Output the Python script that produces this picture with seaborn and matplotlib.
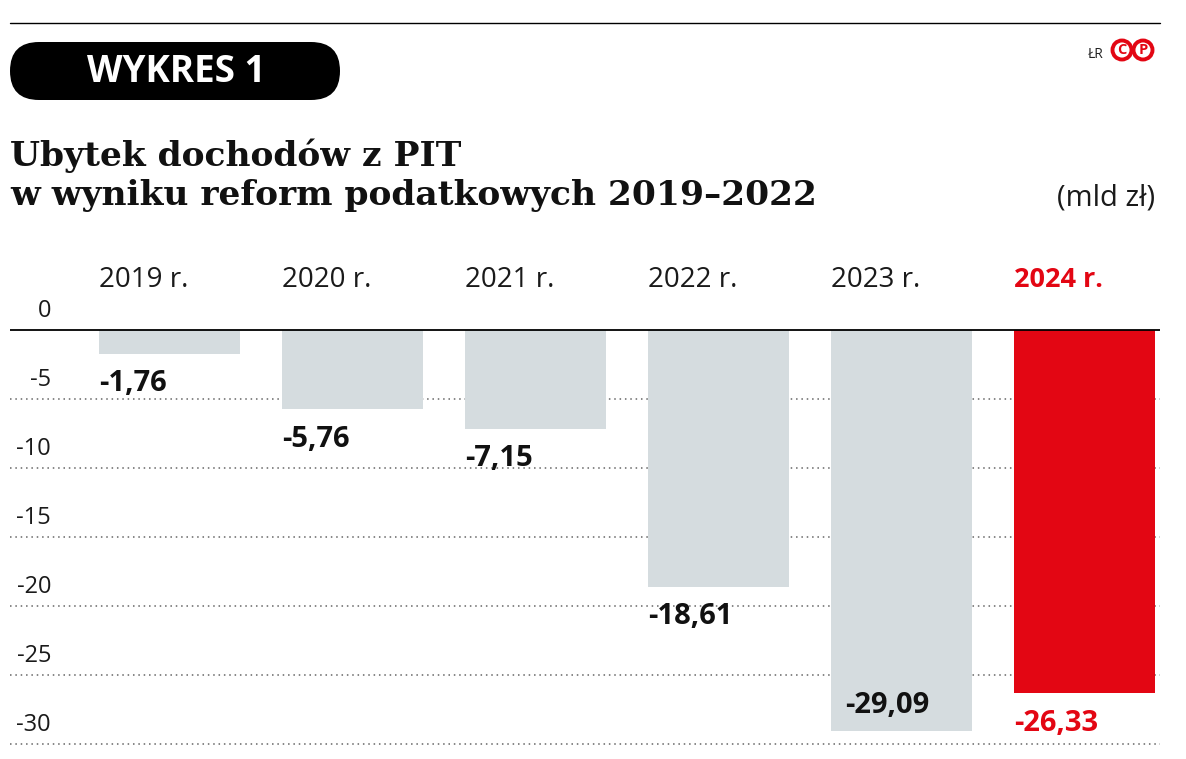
import matplotlib
matplotlib.use('Agg')
import matplotlib.pyplot as plt
import matplotlib.transforms as mtransforms
from matplotlib.patches import FancyBboxPatch, Circle
import seaborn as sns
import pandas as pd

# ---- data ----
years = ['2019 r.', '2020 r.', '2021 r.', '2022 r.', '2023 r.', '2024 r.']
values = [-1.76, -5.76, -7.15, -18.61, -29.09, -26.33]
value_labels = ['-1,76', '-5,76', '-7,15', '-18,61', '-29,09', '-26,33']
y_ticks = [0, -5, -10, -15, -20, -25, -30]
y_tick_labels = ['0', '-5', '-10', '-15', '-20', '-25', '-30']
title_lines = ['Ubytek dochodów z PIT', 'w wyniku reform podatkowych 2019–2022']
unit_label = '(mld zł)'
badge = 'WYKRES 1'

GREY = '#D5DCDF'
RED = '#E30613'
bar_colors = [GREY] * 5 + [RED]

sns.set_theme(style='white')
plt.rcParams['font.family'] = ['Open Sans', 'DejaVu Sans']

W, H = 1186, 759
fig = plt.figure(figsize=(W / 100, H / 100), dpi=100)
fig.patch.set_facecolor('white')

# main axes placement (pixel geometry)
ax_left, ax_right, ax_top, ax_bottom = 10, 1160, 250, 759
zero_px, px_per_unit = 330, 13.8
ax = fig.add_axes([ax_left / W, 1 - ax_bottom / H,
                   (ax_right - ax_left) / W, (ax_bottom - ax_top) / H])

bar_w = 141 / 183
df = pd.DataFrame({'year': years, 'value': values})
sns.barplot(data=df, x='year', y='value', hue='year', palette=bar_colors,
            width=bar_w, saturation=1, legend=False, linewidth=0, ax=ax)

x0 = (ax_left - 169.5) / 183
x1 = (ax_right - 169.5) / 183
ax.set_xlim(x0, x1)
ax.set_ylim(-(ax_bottom - zero_px) / px_per_unit, (zero_px - ax_top) / px_per_unit)
ax.axis('off')

# grid lines
for t in y_ticks:
    if t == 0:
        ax.axhline(t, color='black', lw=1.3, zorder=3)
    else:
        ax.axhline(t, color='#666666', lw=1.1, ls=(0, (1, 2.5)), zorder=0)

# y tick labels (right aligned, sitting above the line)
blend = mtransforms.blended_transform_factory(ax.transAxes, ax.transData)
for t, lab in zip(y_ticks, y_tick_labels):
    ax.text(41 / (ax_right - ax_left), t + 1.4, lab, transform=blend,
            ha='right', va='center', fontsize=17, color='#1a1a1a')

# category labels
for i, yr in enumerate(years):
    last = i == len(years) - 1
    ax.text(i - bar_w / 2, 3.62, yr, ha='left', va='center',
            fontsize=20 if not last else 19.5, color=RED if last else '#1a1a1a',
            fontweight='bold' if last else 'normal')

# value labels
for i, (v, lab) in enumerate(zip(values, value_labels)):
    last = i == len(values) - 1
    y = v - 2.15
    x = i - bar_w / 2
    if y < -30.4:
        y = v + 1.9
        x += 0.077
    ax.text(x, y, lab, ha='left', va='center', fontsize=21,
            fontweight='bold', color=RED if last else '#111111')

# ---- decoration layer in pixel coordinates ----
bg = fig.add_axes([0, 0, 1, 1], zorder=-1)
bg.set_xlim(0, W)
bg.set_ylim(H, 0)
bg.axis('off')

bg.plot([10, 1160], [23, 23], color='black', lw=1)

pill = FancyBboxPatch((10, 42), 330, 58, boxstyle='round,pad=0,rounding_size=29',
                      fc='black', ec='none')
bg.add_patch(pill)
bg.text(176, 72, badge, color='white', fontsize=26.5, fontweight='bold',
        ha='center', va='center')

bg.text(1104, 55, 'ŁR', fontsize=10, ha='right', va='center', color='#222222')
for cx, ch in [(1122, 'C'), (1143, 'P')]:
    bg.add_patch(Circle((cx, 50), 9.5, fc='white', ec=RED, lw=2.8))
    bg.text(cx, 50.5, ch, color=RED, fontsize=10.5, fontweight='bold',
            ha='center', va='center')

bg.text(10, 166, title_lines[0], fontsize=24.8, fontweight='bold',
        family=['DejaVu Serif'], ha='left', va='baseline', color='#111111')
bg.text(10, 205, title_lines[1], fontsize=24.8, fontweight='bold',
        family=['DejaVu Serif'], ha='left', va='baseline', color='#111111')
bg.text(1155, 205, unit_label, fontsize=21, ha='right', va='baseline',
        color='#1a1a1a')

fig.savefig('out.png', dpi=100, facecolor='white')
